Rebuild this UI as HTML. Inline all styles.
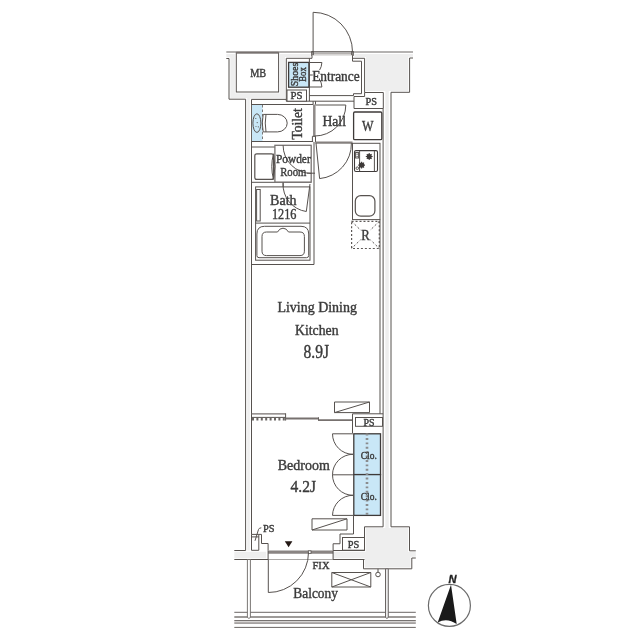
<!DOCTYPE html>
<html lang="en">
<head>
<meta charset="utf-8">
<title>Floor plan</title>
<style>
html,body{margin:0;padding:0;background:#fff;}
body{width:640px;height:640px;overflow:hidden;position:relative;}
svg{display:block;position:absolute;left:0;top:0;}
text{font-family:"Liberation Serif","DejaVu Serif",serif;fill:#3e3a39;text-anchor:middle;stroke:#3e3a39;stroke-width:.4;}
.l{fill:none;stroke:#57524f;stroke-width:1;}
.t{fill:none;stroke:#57524f;stroke-width:1;}
.g{fill:none;stroke:#77716f;stroke-width:1.3;}
.b{fill:#fff;stroke:#57524f;stroke-width:1;}
.k{fill:#fff;stroke:#3e3a39;stroke-width:1.3;}
.bl{fill:#c9e7f7;stroke:none;}
.bk{fill:#c9e7f7;stroke:#3e3a39;stroke-width:1.3;}
.d{fill:none;stroke:#5d5856;stroke-width:.8;stroke-dasharray:1.6 1.4;}
.wf{fill:#eee;stroke:none;}
</style>
</head>
<body>
<svg width="640" height="640" viewBox="0 0 640 640">
<rect width="640" height="640" fill="#fff"/>

<!-- ============ WALL FILLS ============ -->
<g class="wf" id="wallfill">
<path d="M226.3 54H310.600V57H285V98.700H249.800V550.5H247.200V97.900H230.300V57.200H226.3Z"/>
<path d="M354.300 54H413V56.700H408.300V91H388.800V528.100H408.200V552.100H415.8V556.700H410.500V567.500H364.800V558.200H333V551.800H365.800V528.100H385.300V91H365.900V57H354.300Z"/>
<path d="M234.3 551.800H266.200V558.200H234.3Z"/>
<rect x="234.900" y="53" width="45.100" height="40.300" fill="#fff"/>
</g>

<!-- ============ OUTER WALL LINES ============ -->
<g id="outer">
<path class="g" d="M226.3 52H413" style="stroke-width:1.2;stroke:#6b6664"/>
<path class="l" d="M226.3 58.5H229V99.2H245.6V550.5"/>
<path class="l" d="M413 58H409.6V92.3H391V526.8"/>
<path class="l" d="M251.5 99.4V534.5"/>
<path class="l" d="M383.1 108.5V526.8"/>
<rect class="b" x="236.3" y="52.8" width="42.3" height="39.2"/>
<path class="g" d="M236.3 52.6H278.6" style="stroke-width:1.6"/>
</g>

<!-- ============ ENTRANCE ============ -->
<g id="entrance">
<path class="l" d="M313.1 51.9V12.3A39.4 39.4 0 0 1 352.5 51.9"/>
<rect x="311.9" y="52" width="41.2" height="3.4" fill="#fff"/>
<path class="g" d="M311.9 55.250H353.1" style="stroke-width:1.100;stroke:#6b6664"/><path class="g" d="M311.9 53.600H353.1" style="stroke-width:.7;stroke:#8a8583"/>
<path class="g" d="M311.9 51.9H353.1" style="stroke-width:1.1;stroke:#6b6664"/>
<rect class="l" x="311.7" y="51.6" width="1.6" height="3.7"/>
<rect class="l" x="351.7" y="51.6" width="1.6" height="3.7"/>
<!-- room -->
<path d="M312 55.3V58.3H309.4V101.2H353.5V93.7H361.5V61.2H352.5V55.3Z" fill="#fff"/>
<path class="l" d="M286.3 101.2V58.3H312V55.3"/>
<path class="l" d="M309.4 58.3V101.2"/>
<path class="l" d="M352.5 55.3V61.2H361.5V93.7H353.5V95.6"/>
<path class="l" d="M352.5 58.3H364.6V92.5"/>
<path class="l" d="M309.4 95.6H353.5M286.3 101.2H354"/>
<!-- shoes box -->
<rect class="bk" x="288.6" y="62.4" width="20.3" height="24.8"/>
<path class="t" d="M309.4 62.5H321.9Q321.6 67 319.6 70M309.4 87H321.9Q321.6 82.5 319.6 79.5M309.4 75H312.8"/>
<rect class="b" x="287" y="90" width="19.5" height="11.2"/>
<!-- PS right -->
<path class="b" d="M364.6 92.5H383.3V108.5H354V96.5H364.6Z"/>
</g>

<!-- ============ W ============ -->
<rect class="k" x="353.6" y="112" width="28.2" height="27.7" rx="1.2"/>

<!-- ============ TOILET ============ -->
<g id="toilet">
<rect x="251.9" y="104.6" width="61.2" height="37" fill="#fff"/>
<rect class="bl" x="252" y="105" width="10.5" height="36.3"/>
<path class="d" d="M262.5 105V141.3" style="stroke-dasharray:2.5 2"/>
<path class="l" d="M251.5 99.4H286.3M251.5 104.5H313.1M251.5 141.5H313.1M251.5 147H275"/>
<path d="M314.300 104.500V136.500" stroke="#8f8a88" stroke-width="2.500" fill="none"/><path class="l" d="M313.1 101.2V104.500M315.500 101.2V104.500M315.500 136.300H312.400V141.500M315.500 136.300V142.500"/>
<ellipse class="l" cx="256.9" cy="123.1" rx="4" ry="9.3"/>
<g fill="#57524f"><circle cx="255.800" cy="118.500" r=".6"/><circle cx="257.200" cy="122.600" r=".6"/><circle cx="258.300" cy="126.800" r=".6"/><circle cx="256" cy="126.500" r=".5"/></g>
<path class="l" d="M263.2 114.4H277.5A9.7 8.75 0 0 1 277.5 131.9H263.2M263.2 114.4Q261.400 123 263.2 131.9M266 114.4Q264.500 123 266 131.9"/>
</g>

<!-- ============ HALL ============ -->
<g id="hall">
<path class="t" d="M315.6 105H345.8A31 31 0 0 1 314.8 136"/>
<path class="g" d="M315.500 142.6H352.5" style="stroke-width:2.200;stroke:#85807e"/>
<path class="t" d="M316 143L319.6 178.6A35 35 0 0 0 351.4 143"/>
</g>

<!-- ============ POWDER / BATH ============ -->
<g id="powder">
<path class="l" d="M314 142V264.5"/>
<path class="l" d="M251.5 182.3H311.3"/>
<rect class="b" x="274.900" y="145.3" width="36.300" height="36.800" style="stroke:#787371;stroke-width:1.300"/>
<rect class="b" x="254.8" y="153.8" width="18.7" height="25.6" rx="2" style="stroke-width:1.2"/>
<path class="t" d="M273.5 153.8Q270 166.5 273.5 179.4M273.5 153.8Q276.4 166.5 273.5 179.4"/>
<path class="t" d="M283.1 145.3A28.1 28.1 0 0 0 311.3 173.4M307 173.2H315"/>
<!-- bath -->
<path class="l" d="M251.5 264.5H314"/>
<rect class="l" x="255.6" y="186.9" width="54.4" height="73.3"/>
<path class="l" d="M255.6 223.1H310"/>
<rect class="l" x="256.6" y="189.5" width="3.6" height="31.5"/>
<path class="l" d="M264.5 226.3H301Q308.700 226.3 308.700 234V255.500Q308.700 257.700 306.500 257.700H259Q256.900 257.700 256.900 255.500V234Q256.900 226.3 264.5 226.3Z"/>
<path class="l" d="M266.5 232H277.5Q279.5 228.2 283 228.2Q286.5 228.2 288.5 232H300Q304.4 232 304.4 236.5V251.2Q304.4 255.6 300 255.6H266.5Q262 255.6 262 251.2V236.5Q262 232 266.5 232Z"/>
<path class="t" d="M283.1 182.3V187M283.1 183.1A27 27 0 0 0 306.3 211.5L310 184"/>
</g>

<!-- ============ KITCHEN ============ -->
<g id="kitchen">
<rect class="b" x="352.5" y="143.3" width="27.5" height="76.3"/>
<rect class="k" x="354.5" y="150.6" width="23" height="20.9" rx="1.5" style="stroke-width:1.1"/>
<path class="t" d="M359.6 151V171.300M374.400 151V171.300"/>
<rect class="t" x="355.600" y="152.500" width="3" height="5.500"/>
<circle cx="357.1" cy="154.2" r=".6" fill="#3e3a39"/><circle cx="357.1" cy="156.4" r=".6" fill="#3e3a39"/>
<circle class="t" cx="357.300" cy="168.200" r="1.300"/>
<g stroke="#3e3a39" stroke-width="1.1" fill="#3e3a39">
<path d="M365.800 156.500H372.600M369.200 153.100V159.900M366.800 154.100L371.600 158.900M371.600 154.100L366.800 158.900"/><circle cx="369.200" cy="156.500" r="2"/>
<path d="M358.200 165.100H365M361.600 161.700V168.500M359.200 162.700L364 167.500M364 162.700L359.200 167.500"/><circle cx="361.600" cy="165.100" r="2"/>
</g>
<rect class="b" x="355.300" y="195.600" width="19.600" height="20.600" rx="5.500" style="stroke-width:1.200"/>
<rect class="d" x="351.600" y="221.300" width="27.700" height="27.200" style="stroke-width:1.200;stroke-dasharray:2 1.960"/>
<path class="d" d="M351.600 221.300L379.300 248.500M379.300 221.300L351.600 248.500" style="stroke-width:1;stroke-dasharray:2.200 2"/>
<rect x="360.500" y="229.500" width="10" height="11" fill="#fff"/>
</g>

<!-- ============ LDK / BEDROOM partition ============ -->
<g id="partition">
<path class="b" d="M334.500 402H369.500V412.600H334.500ZM334.500 412.600L369.500 402"/>
<path d="M251.500 413.900H285.600" fill="none" stroke="#77716f" stroke-width="1.400"/>
<path class="l" d="M251.500 417.400H285.600M285.600 413.300V420.600M318.500 417.300V420.800"/>
<path d="M285.600 418.500H318.500M318.500 420.200H352.500" fill="none" stroke="#77716f" stroke-width="1.800"/>
<path d="M252 419.200H285.600" stroke="#6b6664" stroke-width="2.400" stroke-dasharray="2 2.400" fill="none"/>
<path class="l" d="M383.100 413.800H352.500V433M353.500 516V534"/>
<path class="l" d="M380 219.600V413.800"/>
<rect class="b" x="355.500" y="417.500" width="27" height="8.800"/>
</g>

<!-- ============ CLOSET ============ -->
<g id="closet">
<rect class="bk" x="353.800" y="433.800" width="26.700" height="40.800"/>
<rect class="bk" x="353.800" y="474.600" width="26.700" height="40.800"/>
<path d="M367 433.600V514.800" stroke="#8b8c8e" stroke-width="2.600" stroke-dasharray="1.900 2.500" fill="none"/>
<path class="t" d="M353 433.800H332.500A20.500 20.500 0 0 0 353 454.300A20.500 20.500 0 0 0 332.500 474.800H353M332.500 474.800A20.500 20.500 0 0 0 353 495.300A20.500 20.500 0 0 0 332.500 515.400H353"/>
<path class="b" d="M312 518.800H347V530H312ZM312 530L347 518.800"/>
</g>

<!-- ============ BOTTOM WALL / WINDOW ============ -->
<g id="bottom">
<path class="l" d="M234.300 550.500H245.600M234.300 559.500H364.500"/>
<path class="b" d="M251.500 534.400H258.800V550.300H251.500Z"/><path class="t" d="M251.500 536.900H258.800"/>
<path class="l" d="M258.800 534.400H261.500V543.500H268.100V550.500"/>
<path class="l" d="M353.500 534H340V543.750H333.100V550.500"/>
<rect class="b" x="342.500" y="537.500" width="22" height="12.700"/>
<path class="l" d="M333 550.500H364.500"/>
<rect x="268.100" y="550.500" width="65" height="9" fill="#fff"/>
<path d="M268.100 552.100H333.100" stroke="#8a8583" stroke-width="3.200" fill="none"/>
<path class="l" d="M268.100 550.500V559.500M333.100 550.500V559.500"/>
<rect class="b" x="308.300" y="550.800" width="2.700" height="2.800" style="stroke-width:.8"/>
<path d="M284.800 541.200H292.400L288.600 547.200Z" fill="#231815"/>
<path class="l" d="M268.300 559.500V592.500A40 40 0 0 0 308.500 552.500"/>
<!-- right block -->
<path class="l" d="M383.100 526.800H364.500V550.500M391 526.800H409.500V550.800H415.800M415.800 558H411.800V568.800H363.500V559.500"/>
<!-- balcony -->
<path class="b" d="M331.800 572.500H370.800V587H331.800ZM331.800 572.500L370.800 587M370.800 572.500L331.800 587"/>
<circle class="b" cx="378" cy="574.500" r="2.300"/>
<path class="l" d="M378 568.800V572.200"/>
<rect x="234.300" y="620.600" width="181.500" height="2.500" fill="#e2e0df"/><path d="M234.300 612.300H415.800M234.300 627.400H415.800M234.300 620.600H415.800M234.300 623.100H415.800" fill="none" stroke="#6b6664" stroke-width="1"/><path d="M234.300 617H415.800" fill="none" stroke="#7d7876" stroke-width="1.600"/>
<path class="b" d="M247.400 559.500H250.400V617.500Q248.900 619.300 247.400 617.500Z" style="stroke-width:.9;stroke:#6b6664"/>
<path class="b" d="M385.500 568.800H388.300V617.500Q386.900 619.300 385.500 617.500Z" style="fill:#ececec;stroke:#6b6664"/>
<path class="t" d="M255 540.800L258.500 529.500Q259 527.900 261.300 527.800"/>
</g>

<!-- ============ NORTH ============ -->
<g id="north" style="filter:grayscale(1)">
<circle cx="449.400" cy="605.400" r="21" fill="#fff" stroke="#6f6967" stroke-width="1.200"/>
<path d="M451 584.700L437.700 622.400Q447 617.200 456.700 624Z" fill="#231815"/>
<text x="452.600" y="582.800" font-size="10.400" textLength="8" lengthAdjust="spacingAndGlyphs" style="font-family:'Liberation Sans',sans-serif;font-weight:bold;font-style:italic;fill:#231815">N</text>
</g>

<!-- ============ TEXT ============ -->
<g id="labels" style="filter:grayscale(1)">
<text x="258.200" y="77.200" font-size="12" textLength="16" lengthAdjust="spacingAndGlyphs">MB</text>
<text x="335.900" y="81.200" font-size="14.200" textLength="47.500" lengthAdjust="spacingAndGlyphs">Entrance</text>
<text x="296.600" y="99.400" font-size="11" textLength="12" lengthAdjust="spacingAndGlyphs">PS</text>
<text x="371.300" y="104.800" font-size="10.500" textLength="11.500" lengthAdjust="spacingAndGlyphs">PS</text>
<text x="367.700" y="130.500" font-size="14" textLength="11.500" lengthAdjust="spacingAndGlyphs">W</text>
<text x="334.200" y="126.100" font-size="14.500" textLength="23.500" lengthAdjust="spacingAndGlyphs">Hall</text>
<text transform="translate(302.200 123.900) rotate(-90)" font-size="13.800" textLength="31.300" lengthAdjust="spacingAndGlyphs">Toilet</text>
<text transform="translate(298.100 74.500) rotate(-90)" font-size="10.500" textLength="23.500" lengthAdjust="spacingAndGlyphs">Shoes</text>
<text transform="translate(306.200 74.500) rotate(-90)" font-size="10.500" textLength="14.500" lengthAdjust="spacingAndGlyphs">Box</text>
<text x="293.300" y="163" font-size="13" textLength="34.800" lengthAdjust="spacingAndGlyphs">Powder</text>
<text x="293.300" y="176.400" font-size="13" textLength="26.200" lengthAdjust="spacingAndGlyphs">Room</text>
<text x="283.300" y="204.500" font-size="14.500" textLength="26.500" lengthAdjust="spacingAndGlyphs">Bath</text>
<text x="284.200" y="218.700" font-size="14.200" textLength="24.500" lengthAdjust="spacingAndGlyphs">1216</text>
<text x="365.400" y="239.800" font-size="14" textLength="8.500" lengthAdjust="spacingAndGlyphs">R</text>
<text x="317.200" y="312" font-size="14" textLength="79.500" lengthAdjust="spacingAndGlyphs">Living Dining</text>
<text x="316.800" y="334.800" font-size="14" textLength="43.500" lengthAdjust="spacingAndGlyphs">Kitchen</text>
<text x="316.300" y="357.600" font-size="18" textLength="25.500" lengthAdjust="spacingAndGlyphs">8.9J</text>
<text x="369" y="425.500" font-size="9.500" textLength="11" lengthAdjust="spacingAndGlyphs">PS</text>
<text x="368.800" y="458.500" font-size="10" textLength="16" lengthAdjust="spacingAndGlyphs">Clo.</text>
<text x="368.800" y="500" font-size="10" textLength="16" lengthAdjust="spacingAndGlyphs">Clo.</text>
<text x="303.800" y="470" font-size="14" textLength="52" lengthAdjust="spacingAndGlyphs">Bedroom</text>
<text x="303.300" y="492" font-size="17" textLength="25.500" lengthAdjust="spacingAndGlyphs">4.2J</text>
<text x="268.700" y="531.700" font-size="10.500" textLength="11.500" lengthAdjust="spacingAndGlyphs">PS</text>
<text x="353.500" y="548" font-size="10" textLength="11.500" lengthAdjust="spacingAndGlyphs">PS</text>
<text x="321" y="568.900" font-size="11" textLength="17" lengthAdjust="spacingAndGlyphs">FIX</text>
<text x="315.600" y="598.300" font-size="14.300" textLength="44.500" lengthAdjust="spacingAndGlyphs">Balcony</text>
</g>
</svg>
</body>
</html>
